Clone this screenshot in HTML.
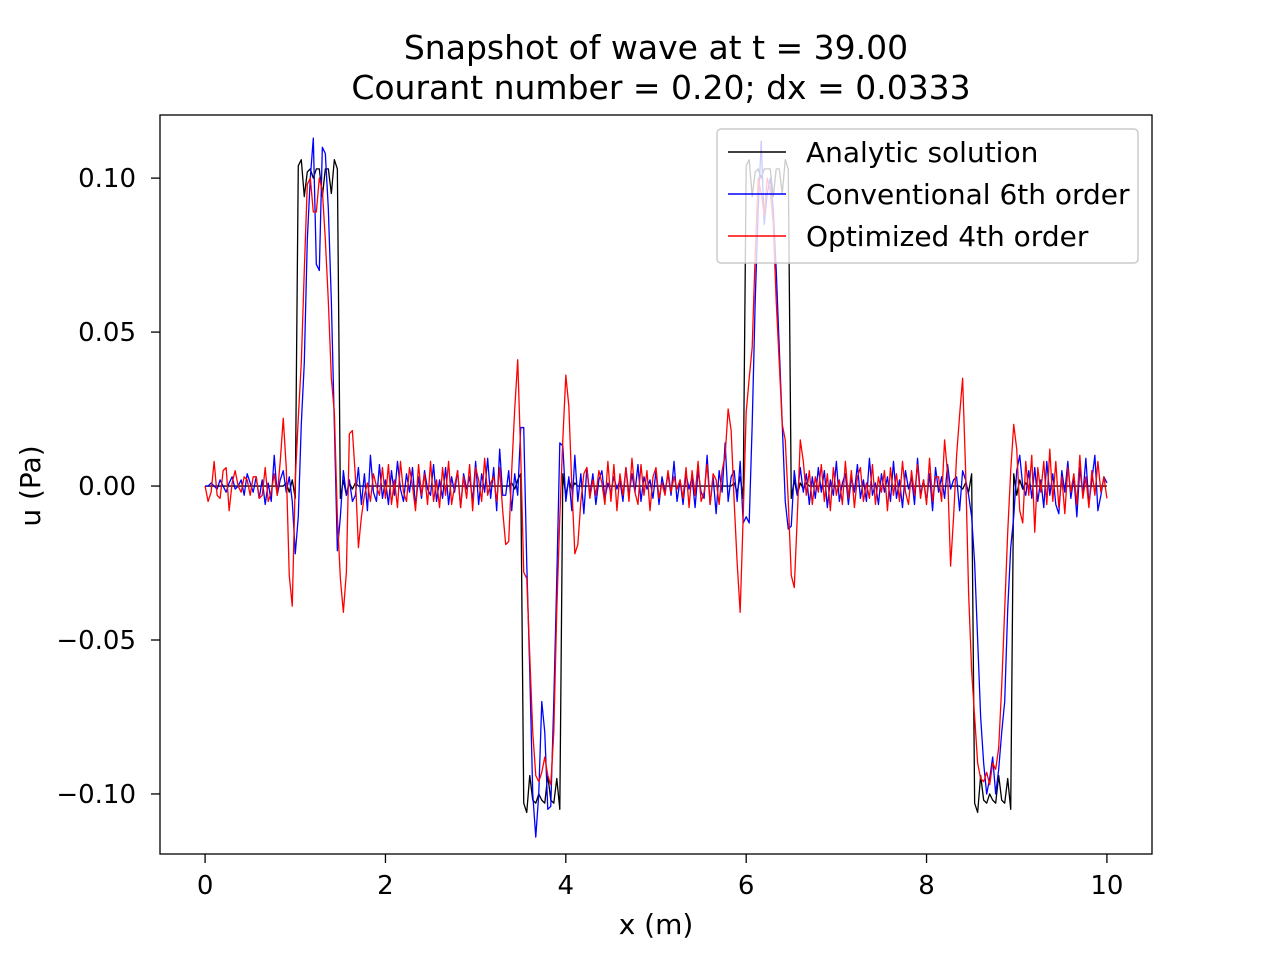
<!DOCTYPE html>
<html><head><meta charset="utf-8"><style>
body{margin:0;background:#fff}
svg text{font-family:"DejaVu Sans","Liberation Sans",sans-serif;fill:#000}
</style></head><body>
<svg id="chart" width="1280" height="960" viewBox="0 0 1280 960" xmlns="http://www.w3.org/2000/svg">
<rect width="1280" height="960" fill="#fff"/>
<text x="656" y="59" font-size="33" text-anchor="middle">Snapshot of wave at t = 39.00</text>
<text x="661" y="99" font-size="33" text-anchor="middle">Courant number = 0.20; dx = 0.0333</text>
<g id="plot"></g>
<g id="axes"></g>
<text x="656" y="934" font-size="28" text-anchor="middle">x (m)</text>
<text x="0" y="0" font-size="28" text-anchor="middle" transform="translate(40,486) rotate(-90)">u (Pa)</text>
<g>
<rect x="717" y="129" width="421" height="134" rx="4" fill="#fff" fill-opacity="0.8" stroke="#ccc" stroke-width="1.5"/>
<line x1="728" y1="152" x2="786" y2="152" stroke="#000" stroke-width="1.4"/>
<text x="806" y="162" font-size="28">Analytic solution</text>
<line x1="728" y1="194" x2="786" y2="194" stroke="#00f" stroke-width="1.4"/>
<text x="806" y="204" font-size="28">Conventional 6th order</text>
<line x1="728" y1="236" x2="786" y2="236" stroke="#f00" stroke-width="1.4"/>
<text x="806" y="246" font-size="28">Optimized 4th order</text>
</g>
</svg>
<script>
const dx = 1/30;
const xTicks = [0, 2, 4, 6, 8, 10];
const xTickLabels = ["0", "2", "4", "6", "8", "10"];
const yTicks = [0.10, 0.05, 0.00, -0.05, -0.10];
const yTickLabels = ["0.10", "0.05", "0.00", "\u22120.05", "\u22120.10"];
// values in units of 0.001 Pa
const analytic = [].concat(
 [0,0,0,0,0,0,0,0,0,0,0,0,0,0,0,0,0,0,0,0,0,0,0,0,0,0],
 [0,1,-2,2,-4],
 [104,106,94,102,103,100,103,103,94,103,103,95,106,103],
 [-4,2,-3,1,-1,1,0,0,0,0],
 [0,0,0,0,0,0,0,0,0,0,0,0,0,0,0,0,0,0,0,0,0,0,0,0,0,0,0,0,0,0,0,0,0,0,0,0,0,0,0,0,0,0,0,0,0,0],
 [0,1,-1,2,4],
 [-103,-106,-94,-102,-103,-100,-102,-103,-94,-102,-103,-95,-105],
 [4,-3,2,-1,1,0,0,0,0,0],
 [0,0,0,0,0,0,0,0,0,0,0,0,0,0,0,0,0,0,0,0,0,0,0,0,0,0,0,0,0,0,0,0,0,0,0,0,0,0,0,0,0,0,0,0,0,0],
 [0,1,-2,3,-4],
 [104,106,94,102,103,100,103,103,103,94,103,103,95,106,103],
 [-4,2,-3,1,-1,1,0,0,0,0],
 [0,0,0,0,0,0,0,0,0,0,0,0,0,0,0,0,0,0,0,0,0,0,0,0,0,0,0,0,0,0,0,0,0,0,0,0,0,0,0,0,0,0,0,0,0,0],
 [0,-1,1,-2,4],
 [-103,-106,-94,-102,-103,-100,-102,-103,-94,-102,-103,-95,-105],
 [4,-3,2,-1,1,0,0,0,0,0],
 [0,0,0,0,0,0,0,0,0,0,0,0,0,0,0,0,0,0,0,0,0,0]
);
const conventional = [].concat(
 [0,0,1,0,-1,2,0,-2,1,3,-1,0,2,-3,4,1,-2,3,-4,2,-6,1,-5,10,-3,2],
 [5,-2,3,-5,-22,-10,20,40,80,100,113,72,70,110,108,90,60,20,-21,-10,5,-3,2,-5,-3],
 [6,-6,4,-8,10,-2,-5,7,-4,2,-6,5,-3,8,-1,-5,4,-2,6,-7,3,-4,5,-1,-3,7,-5,2,-4,6,-6,3,-2,5,-7,4,-1,3,-5,8,-6,4,-2,9,-4,6,-8,12,-3],
 [-3,5,-8,4,-3,19,19,-25,-60,-100,-114,-100,-70,-80,-105,-104,-70,-30,14,13,-5,3,-8,10,-5,4],
 [-9,6,-3,4,-6,2,5,-4,1,-2,3,-1,2,-5,6,-3,4,-2,7,-5,3,-1,2,-4,5,-6,3,-2,4,-3,8,-5,2,-6,4,-1,3,-7,5,-2,-4,10,-6,3,-9,5,-2,14,-5,3],
 [5,-5,8,-12,-10,-12,20,60,90,112,85,95,100,90,70,45,20,-5,-14,-13,5,-3,6,-2,4],
 [-6,3,-4,6,-2,5,-7,2,-3,8,-5,1,4,-6,3,-2,7,-4,2,-5,9,-3,1,-6,4,-2,3,-5,8,-4,2,-7,5,-1,3,-6,9,-3,2,-5,4,-8,6,-2,3,-4,7,-1,2],
 [3,-8,5,2,-3,-10,-25,-50,-75,-90,-100,-95,-88,-100,-92,-80,-70,-40,-20,-10,5,10,0,-3,5,-4],
 [6,-5,2,-7,8,-3,4,-6,-9,5,-2,8,-4,3,-10,6,-3,9,-6,2,10,-8,-3,3,1]
);
const optimized = [].concat(
 [0,-5,-2,8,-3,-4,5,6,-8,1,5,0,-2,3,2,-3,3,3,-4,-3,6,-5,-2,4,-3,8],
 [22,6,-29,-39,2,22,40,70,98,100,89,89,100,96,80,60,35,24,-10,-30,-41,-28,17,18,3,-20,-10,-3,1,-5,4,0,-3,6],
 [-4,7,-6,2,-7,8,-2,-5,6,0,-8,7,-3,4,-6,8,-5,2,-7,6,-3,8,-6,0,5,-7,3,-4,7,-8,6,2,-5,9,-3,1],
 [3,-5,6,-8,-19,-18,5,25,41,10,-28,-30,-55,-80,-94,-96,-93,-88,-94,-97,-80,-40,-10,15,36,26,0,-22,-19,-5,4],
 [6,-4,2,-3,5,1,-6,8,-5,7,-8,4,-3,6,-5,9,-2,-6,7,-3,5,-8,3,6,-4,1,-3,5,-2,3,-1,2,-4,6,-7,5,-3,8,-5,-2,7,-6,4],
 [2,-6,5,10,25,18,-5,-25,-41,-10,24,35,45,75,100,95,88,100,96,85,60,40,20,15,-5,-29,-33,-10,15,8,-3],
 [5,-6,3,-2,7,-5,4,-8,6,-3,2,-6,8,-4,5,-7,3,6,-5,1,-4,7,-6,3,-2,5,-8,6,-3,4,-5,8,-2,-6,5,-3,7,-4,2,-6,9,-5,3],
 [3,-5,15,4,-26,-10,10,23,35,5,-35,-60,-75,-90,-95,-96,-93,-97,-90,-92,-85,-65,-40,-15,5,20,12,-8,-12,8,-3,10,-15,6,-2,8,-6],
 [12,-5,8,-7,3,-9,6,-2,4,-6,10,-4,3,-7,5,-3,8,-2,3,-4]
);

const L=160,R=1152,T=115,B=854;
const xMin=-0.5,xMax=10.5,yMin=-0.1195,yMax=0.1205;
const xs=v=>L+(v-xMin)/(xMax-xMin)*(R-L);
const ys=v=>B-(v-yMin)/(yMax-yMin)*(B-T);
const NS="http://www.w3.org/2000/svg";
const plot=document.getElementById('plot'), axes=document.getElementById('axes');

function drawSeries(vals,color,name){
  const p=document.createElementNS(NS,'path');
  const d=vals.map((v,i)=>(i?'L':'M')+xs(i*dx).toFixed(2)+','+ys(v/1000).toFixed(2)).join('');
  p.setAttribute('d',d);p.setAttribute('fill','none');p.setAttribute('stroke',color);
  p.setAttribute('stroke-width','1.3');p.setAttribute('stroke-linejoin','round');
  
  
  plot.appendChild(p);
}
drawSeries(analytic,'#000','analytic-line');
drawSeries(conventional,'#00f','conventional-line');
drawSeries(optimized,'#f00','optimized-line');

const frame=document.createElementNS(NS,'rect');
frame.setAttribute('x',L);frame.setAttribute('y',T);frame.setAttribute('width',R-L);frame.setAttribute('height',B-T);
frame.setAttribute('fill','none');frame.setAttribute('stroke','#000');frame.setAttribute('stroke-width','1.3');


axes.appendChild(frame);

xTicks.forEach((t,i)=>{
  const x=xs(t);
  const ln=document.createElementNS(NS,'line');
  ln.setAttribute('x1',x);ln.setAttribute('x2',x);ln.setAttribute('y1',B);ln.setAttribute('y2',B+9);
  ln.setAttribute('stroke','#000');ln.setAttribute('stroke-width','1.3');
  
  
  axes.appendChild(ln);
  const tx=document.createElementNS(NS,'text');
  tx.setAttribute('x',x);tx.setAttribute('y',894);tx.setAttribute('font-size','26');tx.setAttribute('text-anchor','middle');
  tx.textContent=xTickLabels[i];
  
  
  axes.appendChild(tx);
});
yTicks.forEach((t,i)=>{
  const y=ys(t);
  const ln=document.createElementNS(NS,'line');
  ln.setAttribute('x1',L-9);ln.setAttribute('x2',L);ln.setAttribute('y1',y);ln.setAttribute('y2',y);
  ln.setAttribute('stroke','#000');ln.setAttribute('stroke-width','1.3');
  
  
  axes.appendChild(ln);
  const tx=document.createElementNS(NS,'text');
  tx.setAttribute('x',L-24);tx.setAttribute('y',y+9);tx.setAttribute('font-size','26');tx.setAttribute('text-anchor','end');
  tx.textContent=yTickLabels[i];
  
  
  axes.appendChild(tx);
});
</script>
</body></html>
